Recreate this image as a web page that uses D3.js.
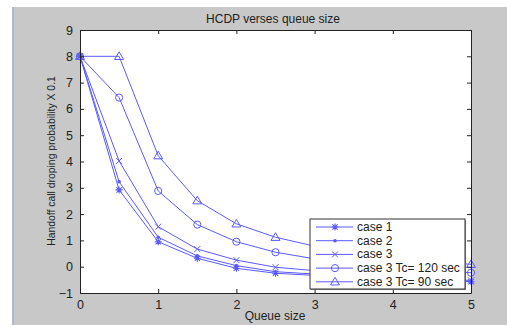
<!DOCTYPE html>
<html><head><meta charset="utf-8">
<script src="https://cdn.jsdelivr.net/npm/d3@7"></script>
<style>html,body{margin:0;padding:0;background:#fff;}svg{display:block;}</style>
</head><body>
<svg id="c" width="507" height="325"></svg>
<script>
const queueSize = [0, 0.5, 1, 1.5, 2, 2.5, 3, 3.5, 4, 4.5, 5];
const case1 = [8, 2.92, 0.95, 0.32, -0.06, -0.25, -0.33, -0.42, -0.48, -0.53, -0.57];
const case2 = [8, 3.23, 1.12, 0.41, 0.04, -0.19, -0.28, -0.38, -0.45, -0.5, -0.55];
const case3 = [8, 4.02, 1.52, 0.67, 0.25, -0.02, -0.15, -0.28, -0.38, -0.46, -0.52];
const case3Tc120 = [8, 6.43, 2.88, 1.6, 0.95, 0.55, 0.3, 0.12, 0, -0.12, -0.23];
const case3Tc90 = [8, 8.0, 4.22, 2.51, 1.63, 1.12, 0.78, 0.55, 0.38, 0.22, 0.09];
const seriesNames = ["case 1", "case 2", "case 3", "case 3 Tc= 120 sec", "case 3 Tc= 90 sec"];
const seriesMarkers = ["star", "point", "x", "circle", "triangle"];
const xTicks = [0, 1, 2, 3, 4, 5];
const yTicks = [-1, 0, 1, 2, 3, 4, 5, 6, 7, 8, 9];

const series = [case1, case2, case3, case3Tc120, case3Tc90].map((v, i) => ({name: seriesNames[i], marker: seriesMarkers[i], values: v}));

const svg = d3.select("#c");
svg.append("rect").attr("x", 13).attr("y", 7).attr("width", 494).attr("height", 318).attr("fill", "#c8c8c8");
svg.append("rect").attr("x", 12).attr("y", 7).attr("width", 2).attr("height", 318).attr("fill", "#a9bad3");

const L = 80, R = 471, T = 30, B = 293;
const x = d3.scaleLinear().domain([0, 5]).range([L, R]);
const y = d3.scaleLinear().domain([-1, 9]).range([B, T]);
const blue = "#5a5aff";
const axisCol = "#222";

svg.append("rect").attr("x", L).attr("y", T).attr("width", R - L).attr("height", B - T).attr("fill", "#fff");

const clipId = "plotclip";
svg.append("clipPath").attr("id", clipId).append("rect").attr("x", L - 6).attr("y", T - 6).attr("width", R - L + 12).attr("height", B - T + 12);

const plot = svg.append("g").attr("clip-path", `url(#${clipId})`);
const line = d3.line().x((d, i) => x(queueSize[i])).y(d => y(d));

function drawMarker(g, type, cx, cy) {
  if (type === "star") {
    const r = 3.5;
    g.append("path").attr("d", `M${cx - r},${cy}H${cx + r}M${cx},${cy - r}V${cy + r}M${cx - r * 0.75},${cy - r * 0.75}L${cx + r * 0.75},${cy + r * 0.75}M${cx - r * 0.75},${cy + r * 0.75}L${cx + r * 0.75},${cy - r * 0.75}`)
      .attr("stroke", blue).attr("stroke-width", 1.1).attr("fill", "none");
  } else if (type === "point") {
    g.append("circle").attr("cx", cx).attr("cy", cy).attr("r", 1.8).attr("fill", blue);
  } else if (type === "x") {
    const r = 3;
    g.append("path").attr("d", `M${cx - r},${cy - r}L${cx + r},${cy + r}M${cx - r},${cy + r}L${cx + r},${cy - r}`)
      .attr("stroke", blue).attr("stroke-width", 1).attr("fill", "none");
  } else if (type === "circle") {
    g.append("circle").attr("cx", cx).attr("cy", cy).attr("r", 3.6).attr("fill", "none").attr("stroke", blue).attr("stroke-width", 1);
  } else if (type === "triangle") {
    const r = 4.5;
    g.append("path").attr("d", `M${cx},${cy - r}L${cx + r},${cy + r * 0.7}L${cx - r},${cy + r * 0.7}Z`)
      .attr("fill", "none").attr("stroke", blue).attr("stroke-width", 1);
  }
}

series.forEach(s => {
  plot.append("path").datum(s.values).attr("d", line).attr("fill", "none").attr("stroke", blue).attr("stroke-width", 1);
  s.values.forEach((v, i) => drawMarker(plot, s.marker, x(queueSize[i]), y(v)));
});

const tickLen = 4;
const xAxisB = d3.axisBottom(x).tickValues(xTicks).tickSizeInner(-tickLen).tickSizeOuter(0).tickPadding(7).tickFormat(d3.format("d"));
const xAxisT = d3.axisTop(x).tickValues(xTicks).tickSizeInner(-tickLen).tickSizeOuter(0).tickFormat("");
const yAxisL = d3.axisLeft(y).tickValues(yTicks).tickSizeInner(-tickLen).tickSizeOuter(0).tickPadding(7).tickFormat(d3.format("d"));
const yAxisR = d3.axisRight(y).tickValues(yTicks).tickSizeInner(-tickLen).tickSizeOuter(0).tickFormat("");

function styleAxis(g) {
  g.select(".domain").attr("stroke", axisCol);
  g.selectAll(".tick line").attr("stroke", axisCol);
  g.selectAll("text").attr("fill", "#222").attr("font-family", "Liberation Sans, Arial, sans-serif").attr("font-size", 12.5);
}
svg.append("g").attr("transform", `translate(0,${B})`).call(xAxisB).call(styleAxis);
svg.append("g").attr("transform", `translate(0,${T})`).call(xAxisT).call(styleAxis);
svg.append("g").attr("transform", `translate(${L},0)`).call(yAxisL).call(styleAxis);
svg.append("g").attr("transform", `translate(${R},0)`).call(yAxisR).call(styleAxis);

const font = "Liberation Sans, Arial, sans-serif";
svg.append("text").attr("x", 273).attr("y", 23).attr("text-anchor", "middle").attr("font-family", font).attr("font-size", 12).attr("fill", "#222").text("HCDP verses queue size");
svg.append("text").attr("x", 275).attr("y", 320).attr("text-anchor", "middle").attr("font-family", font).attr("font-size", 12).attr("fill", "#222").text("Queue size");
svg.append("text").attr("transform", "translate(55,161) rotate(-90)").attr("text-anchor", "middle").attr("font-family", font).attr("font-size", 10.4).attr("fill", "#222").text("Handoff call droping probability X 0.1");

const lg = svg.append("g");
const lx = 310, ly = 219, lw = 155, lh = 70;
lg.append("rect").attr("x", lx + 1).attr("y", ly + 1).attr("width", lw).attr("height", lh).attr("fill", "#888");
lg.append("rect").attr("x", lx).attr("y", ly).attr("width", lw).attr("height", lh).attr("fill", "#fff").attr("stroke", "#333").attr("stroke-width", 1);
series.forEach((s, i) => {
  const yy = ly + 8 + i * 13.7;
  lg.append("line").attr("x1", lx + 6).attr("x2", lx + 43).attr("y1", yy).attr("y2", yy).attr("stroke", blue).attr("stroke-width", 1);
  drawMarker(lg, s.marker, lx + 25, yy);
  lg.append("text").attr("x", lx + 47).attr("y", yy + 4).attr("font-family", font).attr("font-size", 12).attr("fill", "#222").text(s.name);
});
</script>
</body></html>
